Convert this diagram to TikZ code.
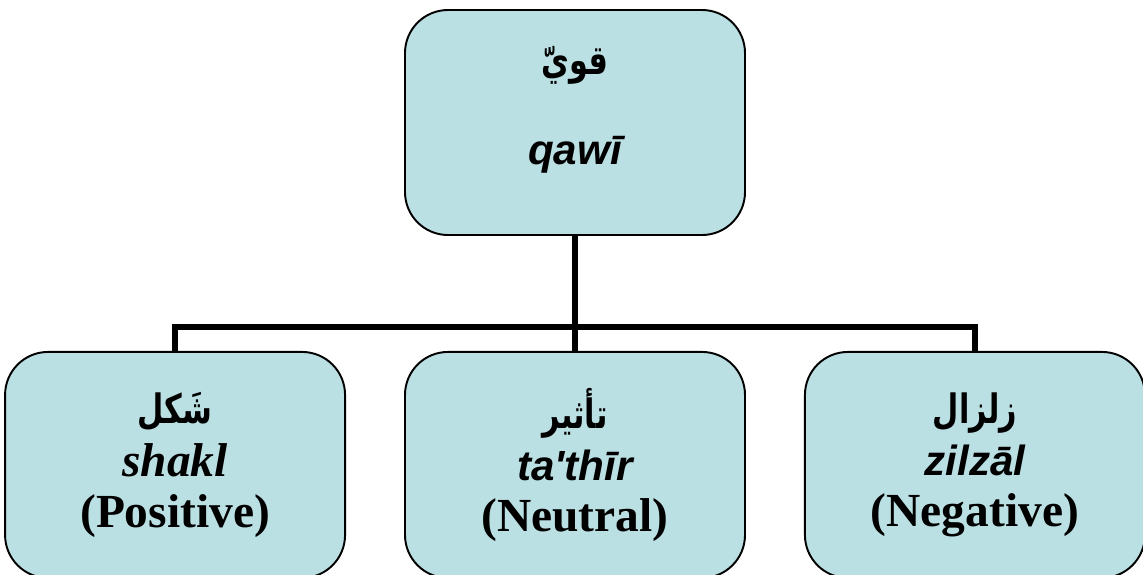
\documentclass[tikz,border=0pt]{standalone}
\usepackage{fontspec}
\usepackage{tikz}
\usetikzlibrary{positioning}
\setmainfont{Liberation Serif}
\newfontfamily\latinsans{Liberation Sans}
\newfontfamily\arabicfont[Script=Arabic,FakeStretch=0.75]{DejaVu Sans}
\TeXXeTstate=1
\definecolor{PaleCyan}{HTML}{BBE0E3}

% shorthands for the three kinds of text in a box
\newcommand{\arword}[1]{{\arabicfont\bfseries\fontsize{23}{24}\selectfont\beginR #1\endR}}
\newcommand{\romsans}[1]{{\latinsans\bfseries\itshape\fontsize{24}{30}\selectfont #1}}
\newcommand{\romserif}[1]{{\bfseries\itshape\fontsize{27}{30}\selectfont #1}}
\newcommand{\gloss}[1]{{\bfseries\fontsize{27}{30}\selectfont #1}}

\begin{document}
\begin{tikzpicture}[node distance=2.3cm and 1.16cm,
  box/.style={draw,line width=1.1pt,fill=PaleCyan,rounded corners=0.86cm,align=center,
    minimum width=6.8cm,minimum height=4.52cm,inner sep=0pt,font=\fontsize{27}{29}\selectfont},
  link/.style={line width=3.4pt}]
\useasboundingbox (0,0) rectangle (22.86,-11.48);
\node[box,minimum height=4.5cm,font=\normalsize] (qawi) at (11.5,-2.45) {\arword{قويّ}\\[1.0cm]\romsans{qawī}\\[0.25cm]};
\node[box,below=of qawi] (tathir) {\arword{تأثير}\\[1pt]\romsans{ta'thīr}\\\gloss{(Neutral)}};
\node[box,left=of tathir] (shakl) {\arword{شَكل}\\[1pt]\romserif{shakl}\\\gloss{(Positive)}};
\node[box,right=of tathir] (zilzal) {\arword{زلزال}\\[1pt]\romsans{zilzāl}\\\gloss{(Negative)}};
% tree connector
\coordinate (split) at ([yshift=-1.82cm]qawi.south);
\draw[link] (qawi.south) -- (tathir.north);
\draw[link] (shakl.north) |- (split) -| (zilzal.north);
\end{tikzpicture}
\end{document}
